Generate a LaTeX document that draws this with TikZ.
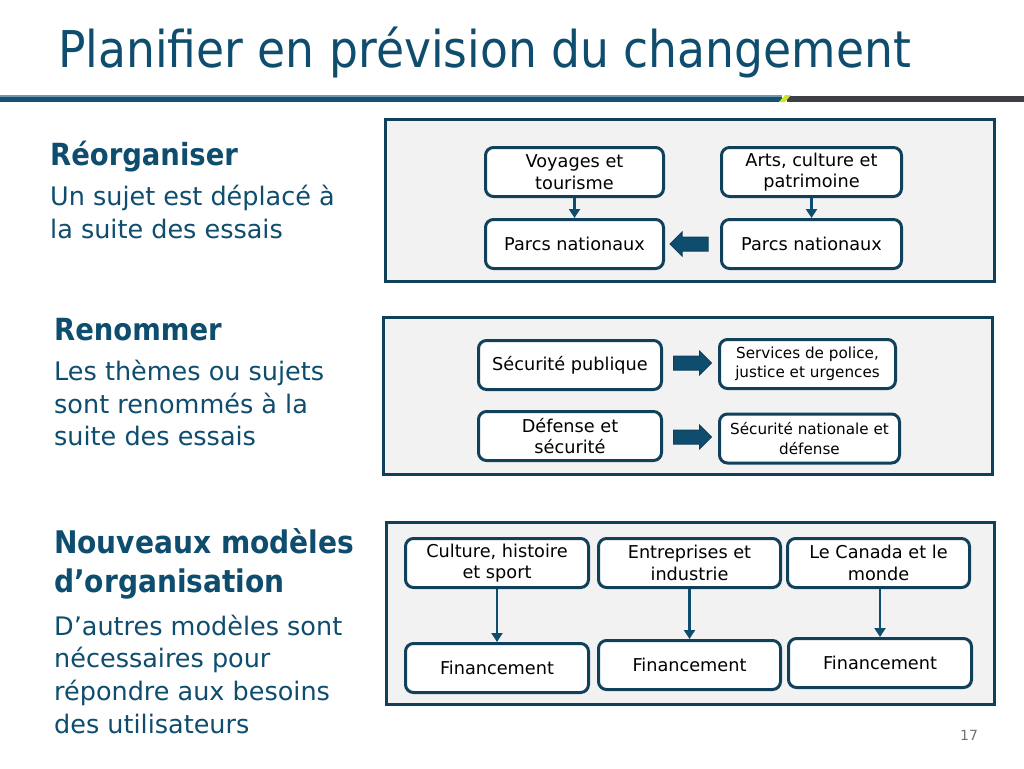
\documentclass[tikz,border=0pt]{standalone}
\usepackage{fontspec}
\setmainfont{DejaVu Sans}
\newfontfamily\condfont{DejaVu Sans Condensed}
\usetikzlibrary{shapes.arrows,arrows.meta}
\definecolor{navy}{RGB}{14,77,110}
\definecolor{panelbg}{RGB}{242,242,242}
\definecolor{boxline}{RGB}{16,64,90}
\definecolor{barblue}{RGB}{20,82,115}
\definecolor{bargray}{RGB}{62,62,70}
\definecolor{baryellow}{RGB}{210,226,40}
\begin{document}
\begin{tikzpicture}[x=1pt,y=-1pt,
  panel/.style={draw=boxline, line width=3pt, fill=panelbg},
  box/.style={draw=boxline, line width=3pt, rounded corners=8pt, fill=white,
    align=center, font=\fontsize{17.7}{21.5}\selectfont, inner sep=0pt, text=black,
    minimum height=49pt},
  smallbox/.style={box, font=\fontsize{15.2}{19.5}\selectfont},
  thinarrow/.style={draw=navy, line width=2.2pt, -{Triangle[length=9pt,width=11pt]}},
  blockarrow/.style={single arrow, fill=navy, draw=boxline, line width=1pt,
    minimum height=38pt, minimum width=0pt, single arrow head extend=5pt,
    inner xsep=0pt, inner ysep=6.5pt},
  headtxt/.style={anchor=base west, inner sep=0pt, text=navy,
    font=\condfont\bfseries\fontsize{30.5}{36}\selectfont},
  bodytxt/.style={anchor=base west, inner sep=0pt, text=navy,
    font=\fontsize{25.5}{30}\selectfont}
]
\useasboundingbox (0,0) rectangle (1024,768);
\fill[white] (0,0) rectangle (1024,768);

% title
\node[anchor=base west, inner sep=0pt, text=navy, font=\condfont\fontsize{50.7}{60}\selectfont]
  (title) at (58,67) {Planifier en prévision du changement};

% header bar
\fill[barblue] (0,95) rectangle (782,102);
\fill[barblue!60!white] (0,95) rectangle (782,96.5);
\fill[bargray] (787,96) rectangle (1024,101.5);
\fill[baryellow] (779,102) -- (785,95) -- (791,95) -- (785,102) -- cycle;

% ---------- panel 1
\node[panel, minimum width=609pt, minimum height=162pt, inner sep=0pt] (p1) at (690,200.5) {};
\node[box, minimum width=178pt] (voy) at (574.5,172) {Voyages et\\tourisme};
\node[box, minimum width=180pt] (arts) at (811.5,172) {Arts, culture et\\patrimoine};
\node[box, minimum width=178pt] (parcsL) at (574.5,244) {Parcs nationaux};
\node[box, minimum width=180pt] (parcsR) at (811.5,244) {Parcs nationaux};
\draw[thinarrow] (voy.south) -- (parcsL.north);
\draw[thinarrow] (arts.south) -- (parcsR.north);
\node[blockarrow, shape border rotate=180] (a1) at (692.5,244) {};

% ---------- panel 2
\node[panel, minimum width=609pt, minimum height=157pt, inner sep=0pt] (p2) at (688,396) {};
\node[box, minimum width=183pt] (secpub) at (570,365) {Sécurité publique};
\node[box, minimum width=183pt] (defsec) at (570,436) {Défense et\\sécurité};
\node[smallbox, minimum width=176pt] (police) at (807.5,364) {Services de police,\\justice et urgences};
\node[smallbox, minimum width=180pt] (secnat) at (809.5,438.5) {Sécurité nationale et\\défense};
\node[blockarrow] (a2) at (689,363) {};
\node[blockarrow] (a3) at (689,437) {};

% ---------- panel 3
\node[panel, minimum width=608pt, minimum height=182pt, inner sep=0pt] (p3) at (690.5,613.5) {};
\node[box, minimum width=183pt] (cult) at (497,563) {Culture, histoire\\et sport};
\node[box, minimum width=182pt] (entr) at (689.5,563) {Entreprises et\\industrie};
\node[box, minimum width=182pt] (canada) at (878.5,563) {Le Canada et le\\monde};
\node[box, minimum width=183pt] (fin1) at (497,668) {Financement};
\node[box, minimum width=182pt] (fin2) at (689.5,665) {Financement};
\node[box, minimum width=183pt] (fin3) at (880,663) {Financement};
\draw[thinarrow] (cult.south -| fin1.north) -- (fin1.north);
\draw[thinarrow] (entr.south -| fin2.north) -- (fin2.north);
\draw[thinarrow] (canada.south -| fin3.north) -- (fin3.north);

% ---------- left texts
\node[headtxt] (h1) at (50,165) {Réorganiser};
\node[bodytxt] (b1a) at (50,205) {Un sujet est déplacé à};
\node[bodytxt] (b1b) at (50,238) {la suite des essais};

\node[headtxt] (h2) at (54,340) {Renommer};
\node[bodytxt] (b2a) at (54,380) {Les thèmes ou sujets};
\node[bodytxt] (b2b) at (54,413) {sont renommés à la};
\node[bodytxt] (b2c) at (54,445) {suite des essais};

\node[headtxt, font=\condfont\bfseries\fontsize{31.2}{36}\selectfont] (h3a) at (54,553) {Nouveaux modèles};
\node[headtxt, font=\condfont\bfseries\fontsize{31.2}{36}\selectfont] (h3b) at (54,592) {d’organisation};
\node[bodytxt] (b3a) at (54,635) {D’autres modèles sont};
\node[bodytxt] (b3b) at (54,667) {nécessaires pour};
\node[bodytxt] (b3c) at (54,700) {répondre aux besoins};
\node[bodytxt] (b3d) at (54,733) {des utilisateurs};

% page number
\node[anchor=base west, inner sep=0pt, text=black!55, font=\fontsize{14}{16}\selectfont] (pg) at (960,740) {17};
\end{tikzpicture}
\end{document}
